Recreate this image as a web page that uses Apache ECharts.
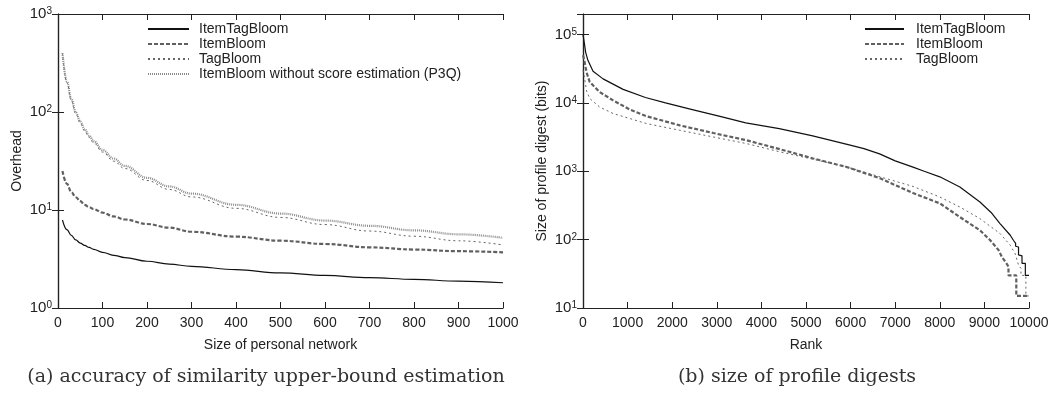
<!DOCTYPE html>
<html><head><meta charset="utf-8">
<script src="https://cdn.jsdelivr.net/npm/echarts@6/dist/echarts.min.js"></script>
<style>html,body{margin:0;padding:0;background:#fff}#c{width:1054px;height:395px}</style>
</head><body><div id="c"></div>
<script>
// ---- (a) overhead vs size of personal network ----
const netSizes = [10, 20, 30, 40, 50, 60, 70, 80, 100, 125, 150, 200, 250, 300, 400, 500, 600, 700, 800, 900, 1000];
const ovItemTagBloom = [7.9, 6.3, 5.5, 4.95, 4.6, 4.35, 4.15, 3.97, 3.7, 3.45, 3.27, 3.0, 2.8, 2.66, 2.46, 2.28, 2.15, 2.04, 1.96, 1.88, 1.81];
const ovItemBloom = [25, 18.5, 15.2, 13.5, 12.3, 11.3, 10.7, 10.2, 9.4, 8.6, 8.0, 7.2, 6.6, 6.0, 5.35, 4.86, 4.5, 4.16, 3.95, 3.8, 3.7];
const ovTagBloom = [400, 200, 132, 96, 78, 64, 55, 48.5, 39, 31.5, 26.5, 20, 16.2, 13.6, 10.4, 8.4, 7.1, 6.1, 5.4, 4.85, 4.4];
const ovP3Q = [400, 205, 136, 99, 80, 67, 57.5, 50.5, 41, 33.5, 28.2, 21.3, 17.4, 14.7, 11.3, 9.2, 7.8, 6.9, 6.2, 5.65, 5.2];

// ---- (b) size of profile digests vs rank ----
const rankItemTagBloom = [0, 30, 60, 110, 225, 450, 900, 1400, 1850, 2450, 3050, 3650, 4400, 5150, 5900, 6300, 6650, 7000, 7400, 7650, 8000, 8450, 8900, 9150, 9350, 9580, 9650, 9700, 9700, 9765, 9765, 9843, 9843, 9918, 9918, 10000];
const bitsItemTagBloom = [100000, 75000, 55000, 42000, 29000, 22500, 15800, 12000, 10000, 8000, 6400, 5100, 4200, 3300, 2500, 2150, 1800, 1420, 1150, 1000, 830, 590, 356, 250, 172, 116, 98, 88, 80, 78, 60, 58, 45, 45, 30, 30];
const rankItemBloom = [0, 30, 80, 150, 375, 675, 1050, 1420, 2170, 2920, 3670, 4420, 5160, 5910, 6660, 7400, 8000, 8450, 8900, 9130, 9320, 9390, 9505, 9540, 9540, 9715, 9715, 10000];
const bitsItemBloom = [50000, 42000, 28000, 20300, 14400, 10900, 8000, 6400, 4700, 3630, 2840, 2100, 1540, 1157, 790, 480, 340, 214, 137, 98, 70, 56, 44, 40, 30, 30, 15, 15];
const rankTagBloom = [0, 30, 80, 150, 375, 675, 1420, 2170, 2920, 3670, 4420, 5160, 5910, 6660, 7400, 8000, 8450, 8900, 9350, 9580, 9690, 9767, 9820, 9820, 9930, 9930, 10000];
const bitsTagBloom = [30000, 24000, 15000, 11600, 8700, 7000, 5000, 3980, 3180, 2540, 1920, 1500, 1157, 830, 600, 421, 300, 203, 123, 83, 62, 42, 38, 30, 30, 15, 15];

const xTicksA = {min: 0, max: 1000, interval: 100};
const xTicksB = {min: 0, max: 10000, interval: 1000};
const yRangeA = {min: 1, max: 1000};
const yRangeB = {min: 10, max: 200000};

const FONT = '"Liberation Sans", Arial, Helvetica, sans-serif';
const SERIF = '"DejaVu Serif", "Liberation Serif", serif';
const TXT = '#222';
const AX = '#222';

const styles = {
  'ItemTagBloom': {color: '#111', width: 1.2, type: 'solid'},
  'ItemBloom': {color: '#606060', width: 2.2, type: [4, 2]},
  'TagBloom': {color: '#666', width: 1, type: [2, 3]},
  'ItemBloom without score estimation (P3Q)': {color: '#8c8c8c', width: 2.2, type: [1, 1]}
};

function pairs(xs, ys) { return xs.map((x, i) => [x, ys[i]]); }

function logLabel(v) {
  const e = Math.round(Math.log10(v));
  if (Math.abs(Math.pow(10, e) - v) > 1e-6 * v) return '';
  return '{b|10}{s|' + e + '}';
}

function xAxisDef(grid, ticks, pos, name) {
  return {
    type: 'value', gridIndex: grid, position: pos, min: ticks.min, max: ticks.max, interval: ticks.interval,
    name: name || '', nameLocation: 'middle', nameGap: 30,
    nameTextStyle: {fontFamily: FONT, fontSize: 14, color: TXT},
    axisLine: {show: true, onZero: false, lineStyle: {color: AX, width: 1.2}},
    axisTick: {show: true, inside: true, length: 6, lineStyle: {color: AX}},
    axisLabel: {show: pos === 'bottom', margin: 8, fontFamily: FONT, fontSize: 14, color: TXT,
                formatter: v => String(v)},
    splitLine: {show: false}
  };
}
function yAxisDef(grid, range, pos, name) {
  return {
    type: 'log', logBase: 10, gridIndex: grid, position: pos, min: range.min, max: range.max,
    name: name || '', nameLocation: 'middle', nameGap: 34,
    nameTextStyle: {fontFamily: FONT, fontSize: 14, color: TXT},
    axisLine: {show: true, lineStyle: {color: AX, width: 1.2}},
    axisTick: {show: true, inside: true, length: 6, lineStyle: {color: AX}},
    axisLabel: {
      show: pos === 'left', margin: 6, formatter: logLabel,
      rich: {
        b: {fontFamily: FONT, fontSize: 15, color: TXT},
        s: {fontFamily: FONT, fontSize: 10, color: TXT, verticalAlign: 'top'}
      }
    },
    minorTick: {show: false},
    splitLine: {show: false}
  };
}
function lineSeries(name, data, xi, yi, smooth) {
  return {
    type: 'line', name: name, data: data, xAxisIndex: xi, yAxisIndex: yi,
    symbol: 'none', smooth: smooth ? 0.4 : false, smoothMonotone: 'x',
    lineStyle: styles[name], itemStyle: {color: styles[name].color},
    silent: true, animation: false
  };
}

const legendCommon = {
  orient: 'vertical', top: 22, itemHeight: 14, itemGap: 1, padding: 0, selectedMode: false,
  itemStyle: {opacity: 0, borderWidth: 0}
};

const chart = echarts.init(document.getElementById('c'), null, {renderer: 'canvas'});
chart.setOption({
  backgroundColor: '#fff',
  animation: false,
  title: [
    {text: '(a) accuracy of similarity upper-bound estimation', left: 266, top: 368, textAlign: 'center', padding: 0,
     textStyle: {fontFamily: SERIF, fontSize: 19, fontWeight: 'normal', color: '#333'}},
    {text: '(b) size of profile digests', left: 797, top: 368, textAlign: 'center', padding: 0,
     textStyle: {fontFamily: SERIF, fontSize: 19, fontWeight: 'normal', color: '#333'}}
  ],
  grid: [
    {left: 58, top: 14, width: 445, height: 294, outerBoundsMode: 'none', containLabel: false},
    {left: 583, top: 14, width: 446, height: 294, outerBoundsMode: 'none', containLabel: false}
  ],
  legend: [
    Object.assign({}, legendCommon, {
      data: ['ItemTagBloom', 'ItemBloom', 'TagBloom', 'ItemBloom without score estimation (P3Q)'],
      left: 147, itemWidth: 41,
      textStyle: {fontFamily: FONT, fontSize: 14, color: TXT, padding: [0, 0, 0, 5]}}),
    Object.assign({}, legendCommon, {
      data: ['ItemTagBloom', 'ItemBloom', 'TagBloom'],
      left: 864, itemWidth: 39,
      textStyle: {fontFamily: FONT, fontSize: 14, color: TXT, padding: [0, 0, 0, 7]}})
  ],
  xAxis: [
    xAxisDef(0, xTicksA, 'bottom', 'Size of personal network'),
    xAxisDef(0, xTicksA, 'top'),
    xAxisDef(1, xTicksB, 'bottom', 'Rank'),
    xAxisDef(1, xTicksB, 'top')
  ],
  yAxis: [
    yAxisDef(0, yRangeA, 'left', 'Overhead'),
    yAxisDef(0, yRangeA, 'right'),
    yAxisDef(1, yRangeB, 'left', 'Size of profile digest (bits)'),
    yAxisDef(1, yRangeB, 'right')
  ],
  series: [
    lineSeries('ItemTagBloom', pairs(netSizes, ovItemTagBloom), 0, 0, true),
    lineSeries('ItemBloom', pairs(netSizes, ovItemBloom), 0, 0, true),
    lineSeries('TagBloom', pairs(netSizes, ovTagBloom), 0, 0, true),
    lineSeries('ItemBloom without score estimation (P3Q)', pairs(netSizes, ovP3Q), 0, 0, true),
    lineSeries('ItemTagBloom', pairs(rankItemTagBloom, bitsItemTagBloom), 2, 2, false),
    lineSeries('ItemBloom', pairs(rankItemBloom, bitsItemBloom), 2, 2, false),
    lineSeries('TagBloom', pairs(rankTagBloom, bitsTagBloom), 2, 2, false)
  ]
});
</script></body></html>
